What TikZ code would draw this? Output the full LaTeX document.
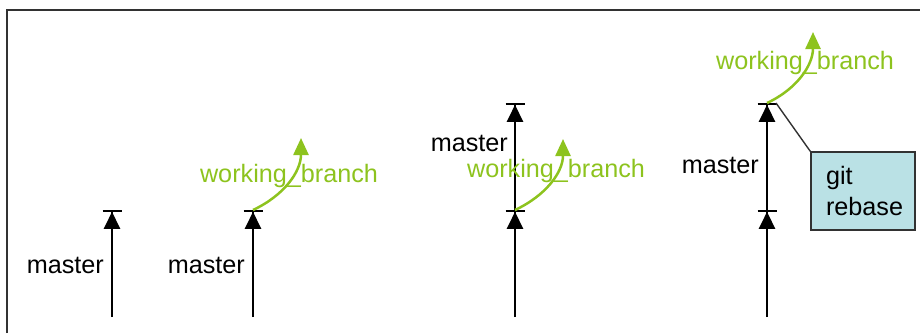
\documentclass[tikz,border=0pt]{standalone}
\usepackage{fontspec}
\setmainfont{Liberation Sans}
\usetikzlibrary{arrows.meta,positioning}
\definecolor{branchgreen}{RGB}{141,195,30}
\definecolor{rebasefill}{RGB}{186,225,229}
\definecolor{framegray}{RGB}{50,50,50}
\newcommand\gitfont{\fontsize{25.2}{31}\selectfont}
\tikzset{
  commit/.style={line width=2.5pt,-{Triangle[length=17pt,width=16pt]Bar[width=19pt,line width=1.8pt]}},
  branch/.style={branchgreen,line width=2.5pt,-{Triangle[length=17pt,width=15pt]}},
  mastertext/.style={font=\gitfont,anchor=east,inner sep=0pt},
  branchtext/.style={font=\gitfont,text=branchgreen,inner sep=0pt},
  cmdbox/.style={draw=framegray,line width=1.6pt,fill=rebasefill,font=\gitfont,
    minimum width=104pt,minimum height=78pt,text width=74pt,align=left,inner sep=0pt}
}

\begin{document}
\begin{tikzpicture}[x=1pt,y=1pt]
		\useasboundingbox (0,0) rectangle (920,333);
		\draw[framegray,line width=2pt] (7,0) -- (7,323) -- (920,323);

		% commits of each stage
		\coordinate (a0) at (112,16);
		\coordinate (a1) at (112,123);

		\coordinate (b0) at (253,16);
		\coordinate (b1) at (253,123);
		\coordinate (b2) at (301,195);

		\coordinate (c0) at (515,16);
		\coordinate (c1) at (515,123);
		\coordinate (c2) at (515,230);
		\coordinate (c3) at (563,194);

		\coordinate (d0) at (767,16);
		\coordinate (d1) at (767,123);
		\coordinate (d2) at (767,230);
		\coordinate (d3) at (813,301);
		\coordinate (d2r) at (776,230);

		\draw [commit] (a0) -- (a1);

		\draw [commit] (b0) -- (b1);
		\draw [branch] (b1) to[out=25,in=-90] (b2);

		\draw [commit] (c0) -- (c1);
		\draw [commit] (c1) -- (c2);
		\draw [branch] (c1) to[out=25,in=-90] (c3);

		\draw [commit] (d0) -- (d1);
		\draw [commit] (d1) -- (d2);
		\draw [branch] (d2) to[out=25,in=-90] (d3);

		\node[mastertext] (ma) at (104,68) {master};
		\node[mastertext] (mb) at (245,68) {master};
		\node[mastertext] (mc) at (508,190) {master};
		\node[mastertext] (md) at (759,168) {master};

		\node[branchtext] (wb) at (289,157) {working\_branch};
		\node[branchtext] (wc) at (556,162) {working\_branch};
		\node[branchtext] (wd) at (805,270) {working\_branch};

		\node[cmdbox] (rebase) at (863,142) {git\\rebase};
		\draw[framegray,line width=1.4pt] (d2r) -- (rebase.north west);
	\end{tikzpicture}
\end{document}
